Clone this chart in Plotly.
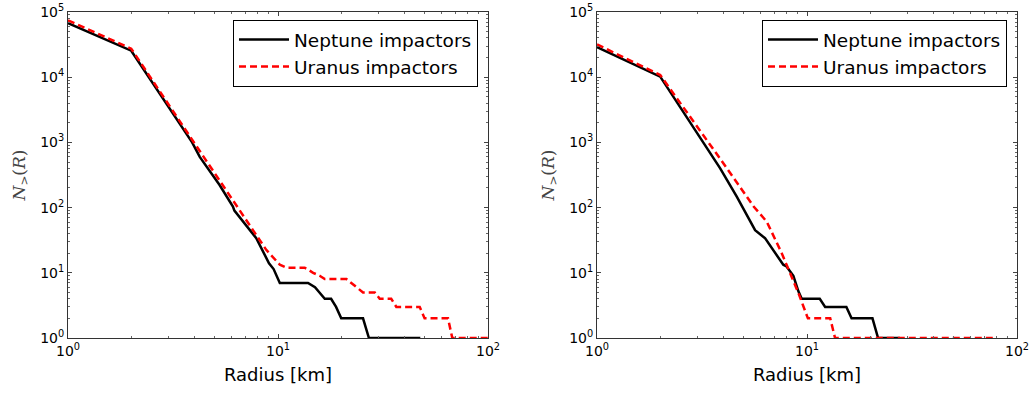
import plotly.graph_objects as go

# ---- data ----
nep_left_r = [1.0, 2.0, 3.9, 4.24, 5.27, 6.1, 6.2, 7.33, 7.88, 9.06, 9.53, 10.2, 13.9, 15.0, 16.7, 17.9, 18.9, 20.0, 25.4, 27.1, 47.6]
nep_left_n = [67600, 25500, 1000, 600, 222, 104, 90, 45, 34, 14, 11.4, 7, 7, 6, 4, 4, 3, 2, 2, 1, 1]

ura_left_r = [1.0, 2.0, 3.9, 6.1, 7.88, 8.79, 10.2, 11.0, 13.4, 14.7, 15.8, 16.7, 21.2, 25.4, 28.9, 30.5, 34.6, 36.6, 47.3, 49.9, 64.5, 67.6, 100.0]
ura_left_n = [74500, 27400, 1100, 131, 38, 22.5, 13.3, 12, 12, 10, 9, 8, 8, 5, 5, 4, 4, 3, 3, 2, 2, 1, 1]

nep_right_r = [1.0, 2.0, 3.86, 4.63, 5.66, 6.31, 7.71, 7.99, 8.61, 9.1, 9.44, 11.5, 12.2, 15.4, 16.3, 20.5, 21.8, 27.7]
nep_right_n = [29000, 10200, 400, 147, 45, 34, 13.3, 12.5, 9, 5.2, 4, 4, 3, 3, 2, 2, 1, 1]

ura_right_r = [1.0, 2.0, 3.86, 5.57, 6.43, 7.58, 9.1, 9.78, 10.1, 12.9, 13.6, 76.9]
ura_right_n = [31800, 10800, 560, 104, 61, 20, 4.9, 2.56, 2, 2, 1, 1]

x_tickvals = [1, 10, 100]
x_ticktext = ["10<sup>0</sup>", "10<sup>1</sup>", "10<sup>2</sup>"]
y_tickvals = [1, 10, 100, 1000, 10000, 100000]
y_ticktext = ["10<sup>0</sup>", "10<sup>1</sup>", "10<sup>2</sup>", "10<sup>3</sup>", "10<sup>4</sup>", "10<sup>5</sup>"]
x_minor = [m * d for d in (1, 10) for m in range(2, 10)]
y_minor = [m * d for d in (1, 10, 100, 1000, 10000) for m in range(2, 10)]

FONT = "DejaVu Sans"
fig = go.Figure()

panels = [
    ("x", "y", "legend", nep_left_r, nep_left_n, ura_left_r, ura_left_n),
    ("x2", "y2", "legend2", nep_right_r, nep_right_n, ura_right_r, ura_right_n),
]
for xa, ya, lg, nr, nn, ur, un in panels:
    fig.add_trace(go.Scatter(x=nr, y=nn, mode="lines", name="Neptune impactors",
                             line=dict(color="black", width=2.5), xaxis=xa, yaxis=ya, legend=lg))
    fig.add_trace(go.Scatter(x=ur, y=un, mode="lines", name="Uranus impactors",
                             line=dict(color="red", width=2.5, dash="7px,4px"), xaxis=xa, yaxis=ya, legend=lg))

def xaxis(domain, anchor):
    return dict(type="log", domain=domain, anchor=anchor, range=[0, 2], automargin=False,
                tickvals=x_tickvals, ticktext=x_ticktext, ticks="inside", ticklen=4,
                tickcolor="#444", showline=True, linecolor="#333", linewidth=1, mirror="ticks",
                showgrid=False, zeroline=False, tickfont=dict(family=FONT, size=14, color="black"),
                minor=dict(tickvals=x_minor, ticks="inside", ticklen=2, tickcolor="#666", showgrid=False),
                title=dict(text="Radius [km]", font=dict(family=FONT, size=18, color="black"), standoff=10))

def yaxis(domain, anchor):
    return dict(type="log", domain=domain, anchor=anchor, range=[0, 5], automargin=False,
                tickvals=y_tickvals, ticktext=y_ticktext, ticks="inside", ticklen=4,
                tickcolor="#444", showline=True, linecolor="#333", linewidth=1, mirror="ticks",
                showgrid=False, zeroline=False, tickfont=dict(family=FONT, size=14, color="black"),
                minor=dict(tickvals=y_minor, ticks="inside", ticklen=2, tickcolor="#666", showgrid=False),
                title=dict(text="<i>N</i><sub>></sub>(<i>R</i>)", font=dict(family="DejaVu Serif", size=17, color="#444"), standoff=10))

ydom = [1 - 338 / 394, 1 - 12 / 394]
legend_common = dict(yanchor="top", xanchor="left", bordercolor="black", borderwidth=1, bgcolor="white",
                     font=dict(family=FONT, size=18.5, color="black"), itemwidth=50, tracegroupgap=0)
fig.update_layout(
    width=1034, height=394,
    margin=dict(l=0, r=0, t=0, b=0),
    paper_bgcolor="white", plot_bgcolor="white",
    xaxis=xaxis([68 / 1034, 488 / 1034], "y"),
    yaxis=yaxis(ydom, "x"),
    xaxis2=xaxis([597 / 1034, 1017 / 1034], "y2"),
    yaxis2=yaxis(ydom, "x2"),
    legend=dict(x=233 / 1034, y=1 - 20 / 394, **legend_common),
    legend2=dict(x=762 / 1034, y=1 - 20 / 394, **legend_common),
    showlegend=True,
)

fig.write_html("out.html", config={"displayModeBar": False},
               post_script="document.body.style.margin='0';document.body.style.overflow='hidden';")
